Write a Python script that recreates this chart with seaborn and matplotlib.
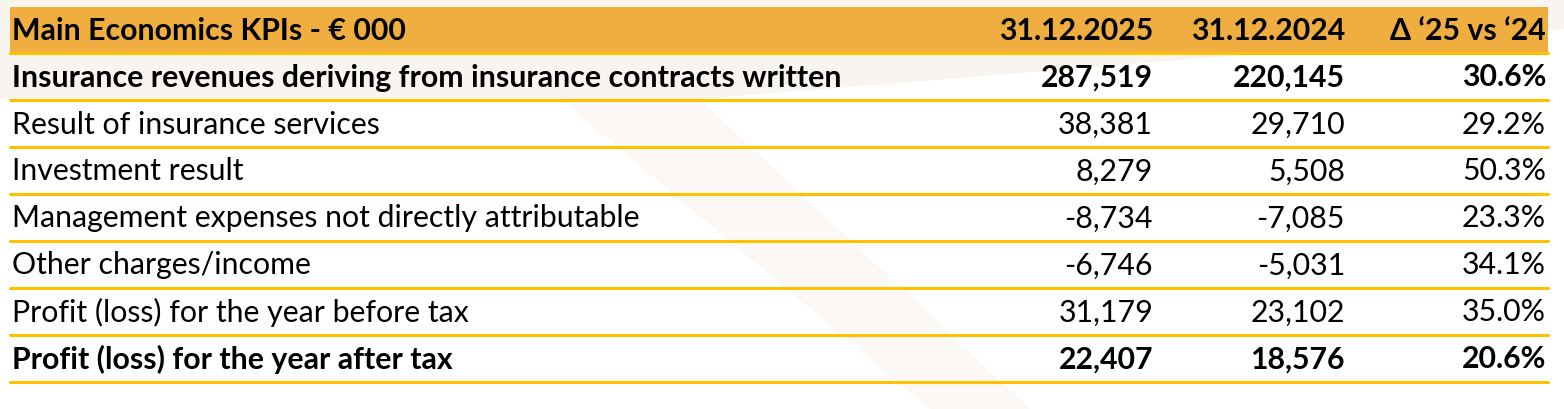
import matplotlib.pyplot as plt
import seaborn as sns
from matplotlib.patches import Rectangle, Polygon

sns.set_theme(style="white")
plt.rcParams['font.family'] = ['Lato', 'DejaVu Sans']

header = ["Main Economics KPIs - € 000", "31.12.2025", "31.12.2024", "Δ ‘25 vs ‘24"]
labels = [
    "Insurance revenues deriving from insurance contracts written",
    "Result of insurance services",
    "Investment result",
    "Management expenses not directly attributable",
    "Other charges/income",
    "Profit (loss) for the year before tax",
    "Profit (loss) for the year after tax",
]
val_2025 = ["287,519", "38,381", "8,279", "-8,734", "-6,746", "31,179", "22,407"]
val_2024 = ["220,145", "29,710", "5,508", "-7,085", "-5,031", "23,102", "18,576"]
delta = ["30.6%", "29.2%", "50.3%", "23.3%", "34.1%", "35.0%", "20.6%"]
bold_rows = [0, 6]

fig = plt.figure(figsize=(15.64, 4.10), dpi=100)
ax = fig.add_axes([0, 0, 1, 1])
ax.set_xlim(0, 1564)
ax.set_ylim(410, 0)
ax.axis("off")

# faint background watermark
ax.add_patch(Polygon([(0, 0), (1564, 0), (1564, 30), (700, 100), (0, 100)],
                     facecolor="#F8F4F0", edgecolor="none", zorder=0))
ax.add_patch(Polygon([(560, 100), (700, 100), (1030, 410), (930, 410)],
                     facecolor="#FBF8F5", edgecolor="none", zorder=0))

left, right = 10, 1548
col_right = [1153, 1345, 1546]
top, hh, rh = 8, 46, 47
fs = 21.8

ax.add_patch(Rectangle((left, top), right - left, hh, facecolor="#F0AE40", edgecolor="none", zorder=1))
yc = top + hh / 2
ax.text(12, yc, header[0], fontsize=fs, fontweight="bold", color="black", va="center", ha="left", zorder=3)
for x, h in zip(col_right, header[1:]):
    ax.text(x, yc, h, fontsize=fs, fontweight="bold", color="black", va="center", ha="right", zorder=3)

y0 = top + hh
for i, lab in enumerate(labels):
    ax.plot([left, right], [y0 + i * rh, y0 + i * rh], color="#FFC000", lw=2.2, zorder=2)
    yc = y0 + i * rh + rh / 2
    w = "bold" if i in bold_rows else "normal"
    ax.text(12, yc, lab, fontsize=fs, fontweight=w, color="black", va="center", ha="left", zorder=3)
    for x, v in zip(col_right, [val_2025[i], val_2024[i], delta[i]]):
        ax.text(x, yc, v, fontsize=fs, fontweight=w, color="black", va="center", ha="right", zorder=3)
ax.plot([left, right], [y0 + len(labels) * rh] * 2, color="#FFC000", lw=2.2, zorder=2)

fig.savefig("out.png", dpi=100)
